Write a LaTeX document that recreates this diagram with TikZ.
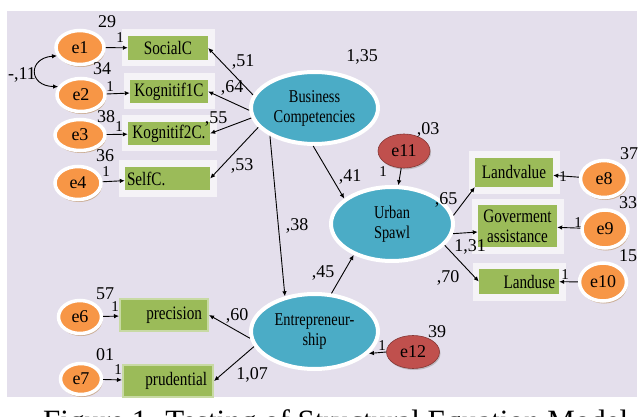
\documentclass[tikz,border=0pt]{standalone}
\usepackage{fontspec}
\setmainfont{Liberation Serif}
\newfontfamily\cfont{Liberation Serif}[FakeStretch=0.8]
\usetikzlibrary{shapes.geometric,arrows.meta,shadows}
\definecolor{bg}{HTML}{E4DFEC}
\definecolor{eor}{HTML}{F79646}
\definecolor{lbl}{HTML}{4BACC6}
\definecolor{ered}{HTML}{C0504D}
\definecolor{igr}{HTML}{9BBB59}
\definecolor{pnl}{HTML}{F5F3F7}
\definecolor{shd}{HTML}{C4A07E}
\begin{document}
\begin{tikzpicture}[x=1pt,y=-1pt,
  errnode/.style={ellipse, fill=eor, draw=white, line width=3.5pt, inner sep=0pt,
    font=\fontsize{18}{18}\selectfont,
    drop shadow={shadow xshift=1pt, shadow yshift=-2.5pt, fill=shd, opacity=0.8}},
  rednode/.style={ellipse, fill=ered, draw=ered!70!black, line width=0.6pt, inner sep=0pt,
    font=\fontsize{18}{18}\selectfont,
    drop shadow={shadow xshift=1pt, shadow yshift=-1.5pt, fill=gray, opacity=0.4}},
  latnode/.style={ellipse, fill=lbl, draw=white, line width=4pt, inner sep=0pt, align=center,
    font=\cfont\fontsize{18}{20}\selectfont,
    drop shadow={shadow xshift=0.8pt, shadow yshift=-1.5pt, fill=gray, opacity=0.3}},
  indnode/.style={rectangle, fill=igr, inner sep=0pt, align=center,
    font=\cfont\fontsize{19}{20}\selectfont,
    preaction={draw=pnl, line width=13pt}},
  raisednode/.style={rectangle, fill=igr, draw=igr!55!white, line width=2pt, inner sep=0pt, align=center,
    font=\cfont\fontsize{19}{20}\selectfont},
  lab/.style={inner sep=0pt, font=\fontsize{18}{18}\selectfont},
  onelab/.style={inner sep=0pt, font=\fontsize{15}{15}\selectfont},
  arr/.style={-{Latex[length=5pt,width=4.5pt]}, line width=0.9pt},
  darr/.style={{Latex[length=5pt,width=4.5pt]}-{Latex[length=5pt,width=4.5pt]}, line width=0.9pt}
]
\path[use as bounding box] (0,0) rectangle (640,417);
\clip (0,0) rectangle (640,417);
\fill[white] (0,0) rectangle (640,417);
\fill[bg] (7,11) rectangle (637,397);

% error terms
\node[errnode, minimum width=48, minimum height=34] (e1) at (80,47.5) {e1};
\node[errnode, minimum width=48, minimum height=33] (e2) at (81,95) {e2};
\node[errnode, minimum width=50, minimum height=31] (e3) at (80,135) {e3};
\node[errnode, minimum width=46, minimum height=33] (e4) at (78,183) {e4};
\node[errnode, minimum width=43, minimum height=33] (e6) at (80,317) {e6};
\node[errnode, minimum width=41, minimum height=31] (e7) at (81,379) {e7};
\node[errnode, minimum width=47, minimum height=37] (e8) at (604,179) {e8};
\node[errnode, minimum width=46, minimum height=38] (e9) at (605,229) {e9};
\node[errnode, minimum width=47, minimum height=38] (e10) at (603,282) {e10};
\node[rednode, minimum width=52, minimum height=34] (e11) at (404,151) {e11};
\node[rednode, minimum width=53, minimum height=33] (e12) at (413,352) {e12};

% latent variables
\node[latnode, minimum width=127, minimum height=72] (BC) at (314.5,108) {Business\\Competencies};
\node[latnode, minimum width=122, minimum height=74] (US) at (392,224) {Urban\\Spawl};
\node[latnode, minimum width=127, minimum height=75] (EN) at (314.5,331.5) {Entrepreneur-\\ship};

% indicators
\node[indnode, minimum width=80, minimum height=24] (SC) at (168,48) {SocialC};
\node[indnode, minimum width=78, minimum height=23] (K1) at (169,91.5) {Kognitif1C};
\node[indnode, minimum width=82, minimum height=23] (K2) at (169,133.5) {Kognitif2C.};
\node[indnode, minimum width=85, minimum height=23] (SF) at (167.5,178.5) {\makebox[81pt][l]{SelfC.}};
\node[indnode, minimum width=78, minimum height=29] (LV) at (514,172.5) {Landvalue};
\node[indnode, minimum width=79, minimum height=42] (GA) at (517.5,226) {Goverment\\assistance};
\node[indnode, minimum width=80, minimum height=25] (LU) at (519,281.5) {\makebox[72pt][r]{Landuse}};
\node[raisednode, minimum width=88, minimum height=32] (PR) at (164,315) {\makebox[76pt][r]{precision}};
\node[raisednode, minimum width=90, minimum height=32] (PD) at (168,381) {\makebox[78pt][r]{prudential}};

% structural and measurement paths
\draw[arr] (BC.168) -- (SC.east);
\draw[arr] (BC.182) -- (K1.east);
\draw[arr] (BC.189) -- (K2.east);
\draw[arr] (BC.199) -- (SF.east);
\draw[arr] (BC.212) -- (EN.130);
\draw[arr] (BC.268) -- (US.152);
\draw[arr] (EN.66) -- (US.219);
\draw[arr] (US.8) -- (LV.south west);
\draw[arr] (US.-9) -- ([yshift=-6pt]GA.west);
\draw[arr] (US.-22) -- (LU.west);
\draw[arr] (EN.186) -- (PR.east);
\draw[arr] (EN.194) -- (PD.east);

% error paths
\draw[arr] (e1) -- (SC);
\draw[arr] (e2) -- (K1);
\draw[arr] (e3) -- (K2);
\draw[arr] (e4) -- (SF);
\draw[arr] (e6) -- (PR);
\draw[arr] (e7) -- (PD);
\draw[arr] (e8) -- (LV);
\draw[arr] (e9) -- (GA);
\draw[arr] (e10) -- (LU);
\draw[arr] (e11) -- (US);
\draw[arr] (e12.west) -- (EN.-22);
\draw[darr] (e1.200) .. controls (28,58) and (28,86) .. (e2.160);

% coefficient labels
\node[lab] (l51) at (243,62) {,51};
\node[lab] (l64) at (232,88) {,64};
\node[lab] (l55) at (216,119) {,55};
\node[lab] (l53) at (242,166) {,53};
\node[lab] (l38) at (297,226) {,38};
\node[lab] (l41) at (350,177) {,41};
\node[lab] (l45) at (323,273) {,45};
\node[lab] (l65) at (446,200) {,65};
\node[lab] (l131) at (470,247) {1,31};
\node[lab] (l70) at (448,278) {,70};
\node[lab] (l60) at (237,316) {,60};
\node[lab] (l107) at (252,375) {1,07};
\node[lab] (l135) at (362,57) {1,35};
\node[lab] (l11) at (22,75) {-,11};

% variance labels
\node[lab] (v1) at (107,22) {29};
\node[lab] (v2) at (102,69) {34};
\node[lab] (v3) at (106,117) {38};
\node[lab] (v4) at (105,156) {36};
\node[lab] (v6) at (105,294) {57};
\node[lab] (v7) at (105,355) {01};
\node[lab] (v8) at (629,154) {37};
\node[lab] (v9) at (628,203) {33};
\node[lab] (v10) at (628,256) {15};
\node[lab] (v11) at (428,130) {,03};
\node[lab] (v12) at (437,332) {39};

% fixed loadings
\node[onelab] (o1) at (120,38) {1};
\node[onelab] (o2) at (110,87) {1};
\node[onelab] (o3) at (119,127) {1};
\node[onelab] (o4) at (106,172) {1};
\node[onelab] (o6) at (115,307) {1};
\node[onelab] (o7) at (118,370) {1};
\node[onelab] (o8) at (563,177) {1};
\node[onelab] (o9) at (578,223) {1};
\node[onelab] (o10) at (565,275) {1};
\node[onelab] (o11) at (383,172) {1};
\node[onelab] (o12) at (382,346) {1};

% caption
\node[anchor=base west, inner sep=0pt, font=\fontsize{31}{31}\selectfont] (cap) at (43,431) {Figure 1. Testing of Structural Equation Model};
\end{tikzpicture}
\end{document}
